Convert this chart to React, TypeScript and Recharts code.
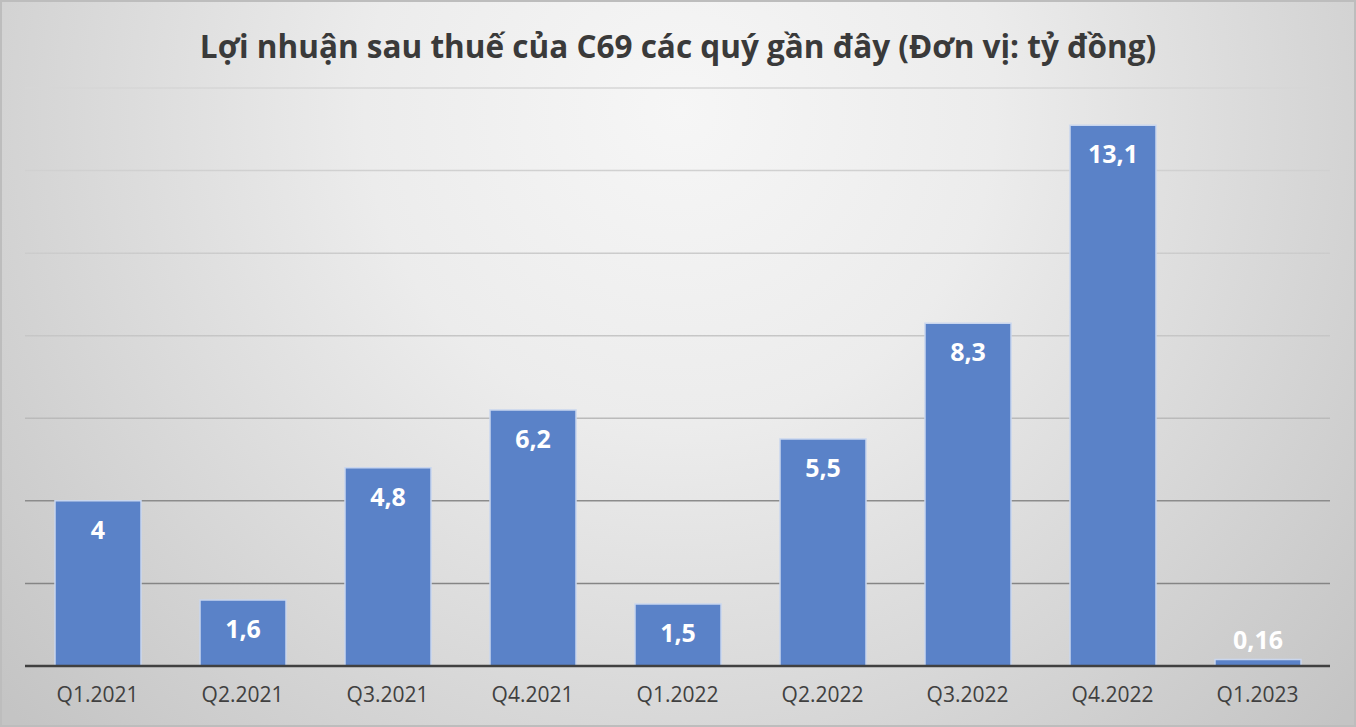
import React from 'react';
import { BarChart, Bar, XAxis, YAxis, CartesianGrid, LabelList } from 'recharts';

const quarters = ['Q1.2021', 'Q2.2021', 'Q3.2021', 'Q4.2021', 'Q1.2022', 'Q2.2022', 'Q3.2022', 'Q4.2022', 'Q1.2023'];
const profit = [4, 1.6, 4.8, 6.2, 1.5, 5.5, 8.3, 13.1, 0.16];
const yTicks = [0, 2, 4, 6, 8, 10, 12, 14];

const data = quarters.map((q, i) => ({ quarter: q, value: profit[i] }));

const W = 1356;
const H = 727;
const FONT = '"Open Sans", "Noto Sans", sans-serif';

const fmt = (v: number) => String(v).replace('.', ',');

const renderLabel = (props: any) => {
  const { x, y, width, height, value } = props;
  const cx = x + width / 2;
  const inside = height > 40;
  const ty = inside ? y + 28 : y - 20;
  return (
    <text
      x={cx}
      y={ty}
      textAnchor="middle"
      dominantBaseline="central"
      fill="#ffffff"
      fontSize={25}
      fontWeight={700}
      fontFamily={FONT}
    >
      {fmt(value)}
    </text>
  );
};

export default function App() {
  return (
    <div style={{ position: 'absolute', left: 0, top: 0, width: W, height: H, overflow: 'hidden' }}>
      <svg width={W} height={H} style={{ position: 'absolute', left: 0, top: 0 }}>
        <defs>
          <radialGradient id="bg" cx="680" cy="110" r="900" gradientUnits="userSpaceOnUse">
            <stop offset="0" stopColor="#f6f6f6" />
            <stop offset="0.35" stopColor="#ececec" />
            <stop offset="1" stopColor="#c4c4c4" />
          </radialGradient>
        </defs>
        <rect x={0} y={0} width={W} height={H} fill="url(#bg)" />
        <rect x={1} y={1} width={W - 2} height={H - 2} fill="none" stroke="#bdbdbd" strokeWidth={2} />
        <text
          x={678}
          y={45}
          textAnchor="middle"
          dominantBaseline="central"
          fill="#3a3a3a"
          fontSize={31.5}
          fontWeight={700}
          fontFamily={FONT}
        >
          Lợi nhuận sau thuế của C69 các quý gần đây (Đơn vị: tỷ đồng)
        </text>
      </svg>
      <div style={{ position: 'absolute', left: 0, top: 0 }}>
        <BarChart
          width={W}
          height={H}
          data={data}
          margin={{ top: 88, right: 26, bottom: 21, left: 25 }}
        >
          <defs>
            <linearGradient id="gridGrad" x1="0" y1="88" x2="0" y2="666" gradientUnits="userSpaceOnUse">
              <stop offset="0" stopColor="#d6d6d6" />
              <stop offset="0.55" stopColor="#c2c2c2" />
              <stop offset="0.6" stopColor="#b0b0b0" />
              <stop offset="0.72" stopColor="#8a8a8a" />
              <stop offset="1" stopColor="#808080" />
            </linearGradient>
          </defs>
          <CartesianGrid vertical={false} stroke="url(#gridGrad)" strokeWidth={1.5} />
          <XAxis
            dataKey="quarter"
            height={40}
            axisLine={{ stroke: '#404040', strokeWidth: 2.5 }}
            tickLine={false}
            tick={{ fill: '#404040', fontSize: 21, fontFamily: FONT }}
            dy={13}
          />
          <YAxis hide domain={[0, 14]} ticks={yTicks} />
          <Bar
            dataKey="value"
            fill="#5a82c8"
            stroke="#c9d6ee"
            strokeWidth={1.5}
            barSize={86}
            isAnimationActive={false}
          >
            <LabelList dataKey="value" content={renderLabel} />
          </Bar>
        </BarChart>
      </div>
    </div>
  );
}
